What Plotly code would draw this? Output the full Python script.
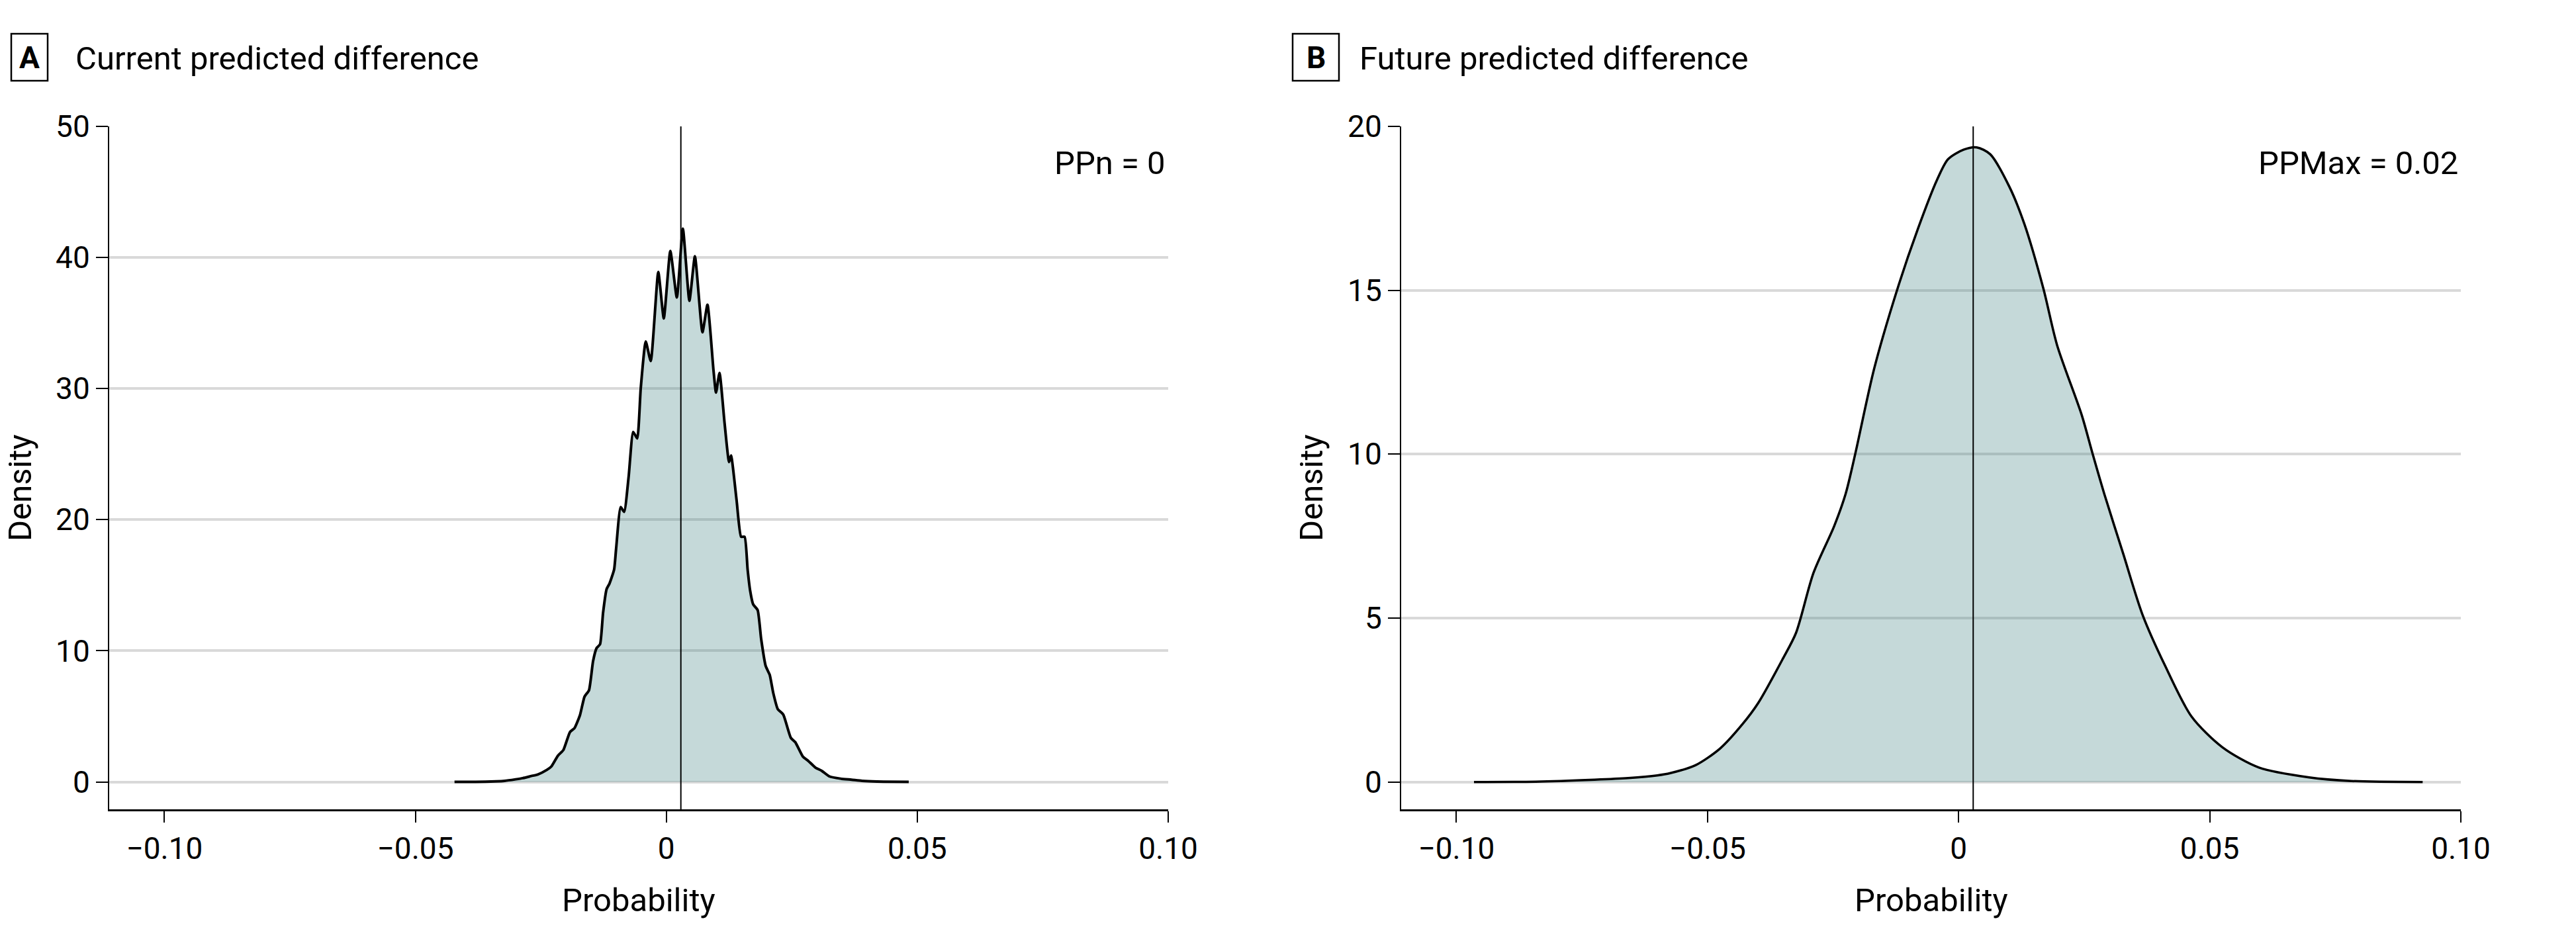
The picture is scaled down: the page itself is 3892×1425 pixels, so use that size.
import plotly.graph_objects as go

# ---------------- data ----------------
# Panel A: current predicted difference (density curve)
current_x = [-0.0422, -0.0380, -0.0340, -0.0322, -0.0300, -0.0286, -0.0269, -0.0256, -0.0238, -0.0229,
             -0.0216, -0.0205, -0.0192, -0.0183, -0.0172, -0.0163, -0.0154, -0.0146, -0.0139, -0.0132,
             -0.0126, -0.0119, -0.0113, -0.0104, -0.0100, -0.0091, -0.0084, -0.0075, -0.0066, -0.0058,
             -0.0051, -0.0041, -0.0031, -0.0016, -0.0005, 0.0008, 0.0021, 0.0033, 0.0046, 0.0057,
             0.0072, 0.0082, 0.0094, 0.0099, 0.0106, 0.0116, 0.0125, 0.0129, 0.0140, 0.0149,
             0.0156, 0.0162, 0.0167, 0.0173, 0.0182, 0.0189, 0.0198, 0.0206, 0.0213, 0.0222,
             0.0233, 0.0248, 0.0257, 0.0272, 0.0283, 0.0297, 0.0310, 0.0325, 0.0347, 0.0369,
             0.0390, 0.0420, 0.0483]
current_density = [0.00, 0.01, 0.04, 0.08, 0.20, 0.29, 0.45, 0.57, 0.92, 1.18,
                   2.00, 2.44, 3.80, 4.10, 5.10, 6.50, 7.00, 9.20, 10.2, 10.5,
                   12.9, 14.7, 15.15, 16.2, 17.8, 20.96, 20.6, 23.3, 26.7, 26.2,
                   30.0, 33.6, 32.1, 38.9, 35.35, 40.5, 36.95, 42.2, 36.7, 40.1,
                   34.3, 36.4, 31.4, 29.7, 31.2, 27.4, 24.4, 24.9, 21.5, 18.7,
                   18.7, 16.2, 14.6, 13.55, 13.1, 10.9, 8.84, 8.17, 6.80, 5.56,
                   5.14, 3.37, 3.03, 1.94, 1.60, 1.10, 0.84, 0.42, 0.25, 0.17,
                   0.08, 0.03, 0.01]

# Panel B: future predicted difference (density curve)
future_x = [-0.0965, -0.0842, -0.0725, -0.0658, -0.0600, -0.0574, -0.0524, -0.0475, -0.0430, -0.0399,
            -0.0350, -0.0324, -0.0289, -0.0248, -0.0225, -0.0206, -0.0168, -0.0119, -0.0081, -0.0043,
            -0.0021, 0.0010, 0.0036, 0.0063, 0.0101, 0.0131, 0.0169, 0.0196, 0.0245, 0.0267,
            0.0290, 0.0328, 0.0366, 0.0411, 0.0464, 0.0525, 0.0598, 0.0698, 0.0782, 0.0924]
future_density = [0.00, 0.01, 0.07, 0.12, 0.20, 0.27, 0.51, 1.02, 1.77, 2.41,
                  3.76, 4.54, 6.38, 7.80, 8.79, 10.0, 12.62, 15.18, 16.88, 18.37,
                  19.0, 19.29, 19.36, 19.15, 18.16, 17.02, 15.04, 13.33, 11.2, 10.0,
                  8.79, 6.95, 5.11, 3.55, 1.99, 1.06, 0.44, 0.14, 0.03, 0.00]

reference_x = 0.0029  # vertical reference line in both panels

x_tick_vals = [-0.10, -0.05, 0, 0.05, 0.10]
x_tick_text = ["\u22120.10", "\u22120.05", "0", "0.05", "0.10"]
a_y_ticks = [0, 10, 20, 30, 40, 50]
b_y_ticks = [0, 5, 10, 15, 20]

panel_titles = ["Current predicted difference", "Future predicted difference"]
panel_letters = ["A", "B"]
panel_notes = ["PPn = 0", "PPMax = 0.02"]
x_title = "Probability"
y_title = "Density"

# ---------------- figure ----------------
W, H = 3892, 1425
FONT = "Roboto, Arial, sans-serif"
FILL = "rgba(62,128,128,0.30)"
GRID = "#d9d9d9"


def px(v):
    return v / W


def py(v):
    return 1 - v / H


fig = go.Figure()
fig.add_trace(go.Scatter(
    x=current_x, y=current_density, mode="lines",
    line=dict(color="black", width=4, shape="spline", smoothing=0.5),
    fill="tozeroy", fillcolor=FILL, xaxis="x", yaxis="y", hoverinfo="skip"))
fig.add_trace(go.Scatter(
    x=future_x, y=future_density, mode="lines",
    line=dict(color="black", width=3.5, shape="spline", smoothing=0.8),
    fill="tozeroy", fillcolor=FILL, xaxis="x2", yaxis="y2", hoverinfo="skip"))

ydom = [py(1223), py(191)]


def xaxis(dom):
    return dict(domain=dom, range=[-0.1110, 0.10], tickvals=x_tick_vals, ticktext=x_tick_text,
                showgrid=False, zeroline=False, showline=True, linecolor="black", linewidth=2.5,
                ticks="outside", ticklen=17, tickwidth=1.5, tickcolor="black", automargin=False,
                tickfont=dict(family=FONT, size=46, color="black"), fixedrange=True)


def yaxis(dom, rng, ticks, anchor):
    return dict(domain=dom, range=rng, tickvals=ticks, showgrid=True, gridcolor=GRID, gridwidth=4,
                zeroline=False, showline=True, linecolor="black", linewidth=2, automargin=False,
                ticks="outside", ticklen=18, tickwidth=1.5, tickcolor="black",
                tickfont=dict(family=FONT, size=46, color="black"), anchor=anchor, fixedrange=True)


fig.update_layout(
    width=W, height=H, autosize=False, margin=dict(l=0, r=0, t=0, b=0, pad=0),
    paper_bgcolor="white", plot_bgcolor="white", showlegend=False,
    xaxis=dict(xaxis([px(165), px(1765)]), anchor="y"),
    yaxis=yaxis(ydom, [-2.09, 50], a_y_ticks, "x"),
    xaxis2=dict(xaxis([px(2117), px(3718)]), anchor="y2"),
    yaxis2=yaxis(ydom, [-0.835, 20], b_y_ticks, "x2"),
)

shapes = []
annotations = []
panels = [
    dict(xref="x", box=(17, 72), title_x=112, note_x=1763, ylab_x=30, xlab_x=965),
    dict(xref="x2", box=(1953, 2023), title_x=2052, note_x=3716, ylab_x=1981, xlab_x=2917.5),
]
for i, p in enumerate(panels):
    shapes.append(dict(type="line", xref=p["xref"], yref=p["xref"].replace("x", "y") + " domain",
                       x0=reference_x, x1=reference_x, y0=0, y1=1,
                       line=dict(color="black", width=2), layer="above"))
    b0, b1 = p["box"]
    shapes.append(dict(type="rect", xref="paper", yref="paper", x0=px(b0), x1=px(b1),
                       y0=py(122), y1=py(51), line=dict(color="black", width=2.5),
                       fillcolor="white"))
    annotations.append(dict(text="<b>%s</b>" % panel_letters[i], xref="paper", yref="paper",
                            x=px((b0 + b1) / 2), y=py(87), xanchor="center", yanchor="middle",
                            showarrow=False, font=dict(family=FONT, size=46, color="black")))
    annotations.append(dict(text=panel_titles[i], xref="paper", yref="paper",
                            x=px(p["title_x"]), y=py(88), xanchor="left", yanchor="middle",
                            showarrow=False, font=dict(family=FONT, size=49, color="black")))
    annotations.append(dict(text=panel_notes[i], xref="paper", yref="paper",
                            x=px(p["note_x"]), y=py(246), xanchor="right", yanchor="middle",
                            showarrow=False, font=dict(family=FONT, size=49, color="black")))
    annotations.append(dict(text=y_title, xref="paper", yref="paper", textangle=-90,
                            x=px(p["ylab_x"]), y=py(737), xanchor="center", yanchor="middle",
                            showarrow=False, font=dict(family=FONT, size=49, color="black")))
    annotations.append(dict(text=x_title, xref="paper", yref="paper",
                            x=px(p["xlab_x"]), y=py(1360), xanchor="center", yanchor="middle",
                            showarrow=False, font=dict(family=FONT, size=49, color="black")))

fig.update_layout(shapes=shapes, annotations=annotations)
fig.write_html(
    "out.html",
    config={"displayModeBar": False, "responsive": False},
    post_script="document.documentElement.style.margin='0';document.body.style.margin='0';"
                "document.body.style.overflow='hidden';document.documentElement.style.overflow='hidden';",
)
